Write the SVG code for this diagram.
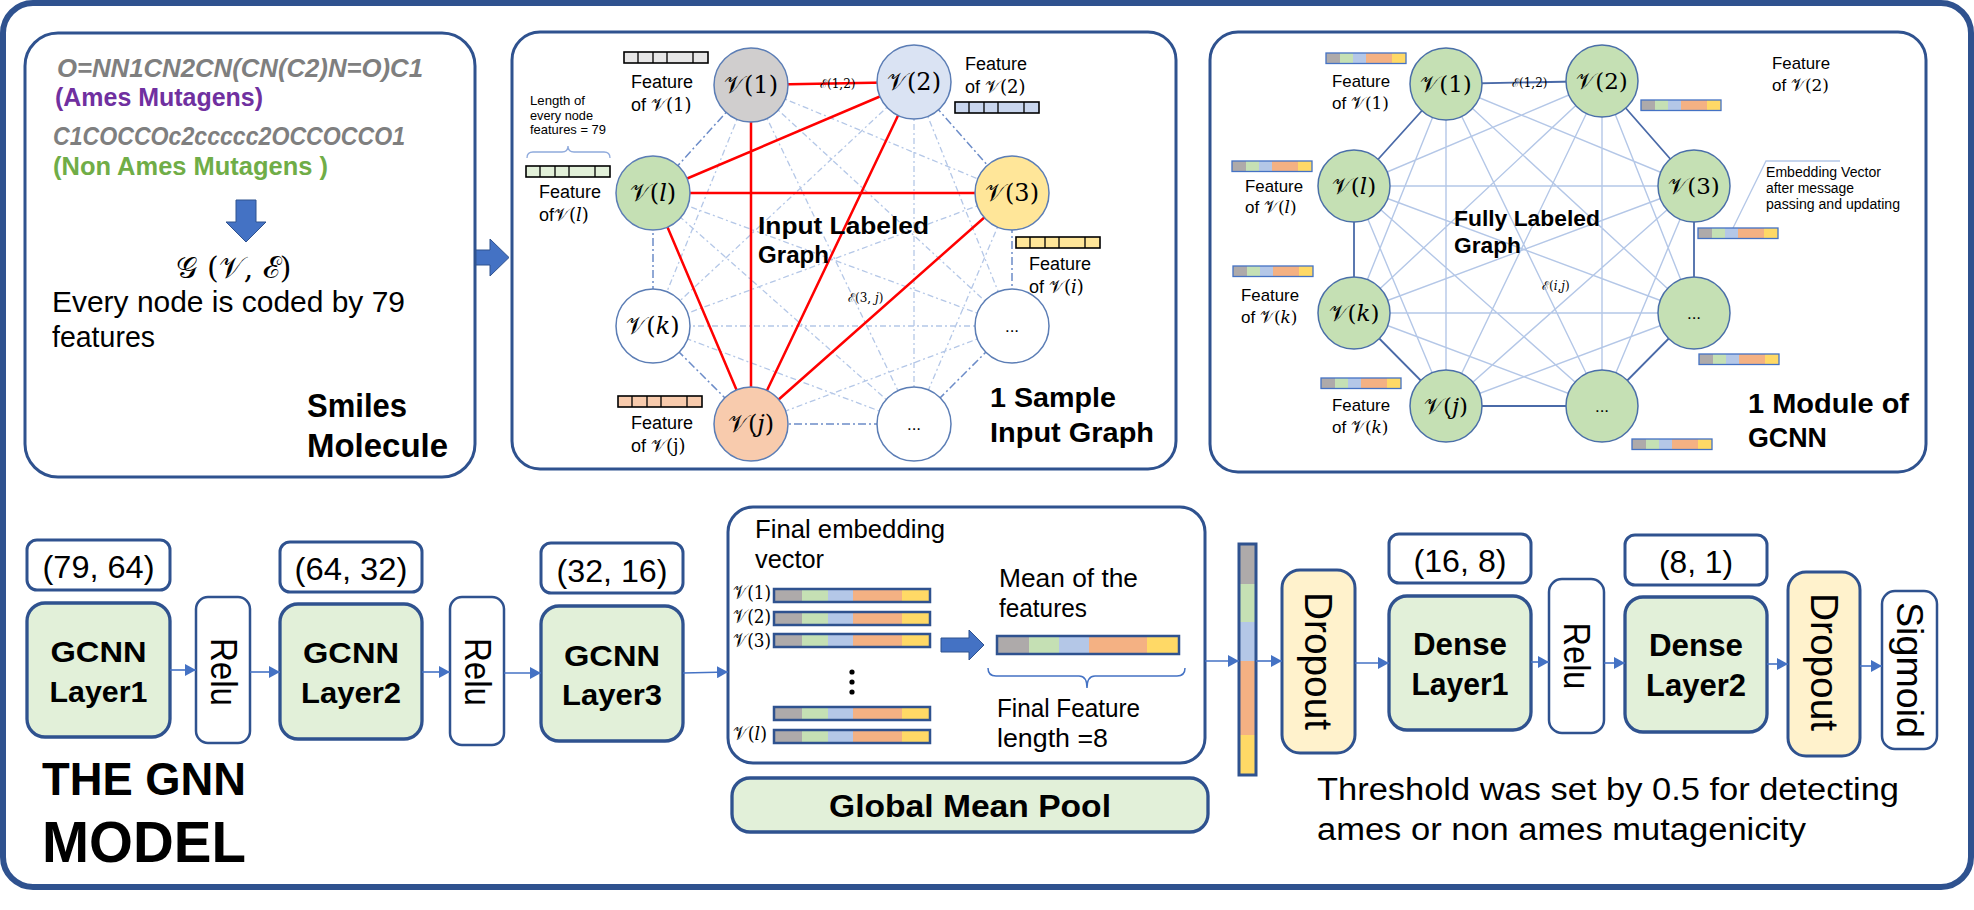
<svg xmlns="http://www.w3.org/2000/svg" width="1974" height="910" viewBox="0 0 1974 910">
<defs>
<style>
text{font-family:'Liberation Sans',Arial,sans-serif;fill:#000}
.b{font-weight:bold}
.m{font-family:'DejaVu Serif','Liberation Serif',serif}
.box{fill:#fff;stroke:#2F528F;stroke-width:3}
.lbl{fill:#fff;stroke:#2F528F;stroke-width:3}
.grn{fill:#E2F0D9;stroke:#2F528F;stroke-width:3.3}
.yel{fill:#FFF2CC;stroke:#2F528F;stroke-width:3}
.red{stroke:#FF0000;stroke-width:2.5;fill:none}
.ring2{stroke:#6C8CC8;stroke-width:1.5;stroke-dasharray:8 3 2 3;fill:none}
.in2{stroke:#B4C7E7;stroke-width:1.3;stroke-dasharray:6 3 2 3;fill:none}
.ring3{stroke:#4A6AA8;stroke-width:1.8;fill:none}
.in3{stroke:#B4C7E7;stroke-width:1.4;fill:none}
.conn{stroke:#4472C4;stroke-width:1.6;fill:none}
.n2{stroke:#5B7DB5;stroke-width:1.5}
.n3{fill:#C5E0B4;stroke:#4A6FA8;stroke-width:1.5}
.blk{fill:#4472C4;stroke:#2F528F;stroke-width:1}
.g{fill:#AEAAAA}.gr{fill:#C5E0B4}.bl{fill:#B4C7E7}.or{fill:#F4B183}.ye{fill:#FFD966}
.f17{font-size:17px}.f18{font-size:18px}
</style>
<marker id="ah" markerWidth="11" markerHeight="12" refX="11" refY="6" orient="auto" markerUnits="userSpaceOnUse"><path d="M0,0 L11,6 L0,12 z" fill="#4472C4"/></marker>
<g id="bar80"><rect class="g" x="0" y="0" width="14" height="10.5"/><rect class="gr" x="14" y="0" width="13" height="10.5"/><rect class="bl" x="27" y="0" width="13" height="10.5"/><rect class="or" x="40" y="0" width="26" height="10.5"/><rect class="ye" x="66" y="0" width="14" height="10.5"/><rect x="0" y="0" width="80" height="10.5" fill="none" stroke="#4472C4" stroke-width="1.3"/></g>
<g id="bar156"><rect class="g" x="0" y="0" width="28" height="13"/><rect class="gr" x="28" y="0" width="26" height="13"/><rect class="bl" x="54" y="0" width="25" height="13"/><rect class="or" x="79" y="0" width="49" height="13"/><rect class="ye" x="128" y="0" width="28" height="13"/><rect x="0" y="0" width="156" height="13" fill="none" stroke="#2F528F" stroke-width="2.5"/></g>
<g id="cells"><rect x="0" y="0" width="84" height="11" fill="none" stroke="#000" stroke-width="1.6"/><path d="M14,0V11M29,0V11M43,0V11M69,0V11" stroke="#000" stroke-width="1.3"/></g>
</defs>

<rect x="3" y="3" width="1968" height="884" rx="30" fill="#fff" stroke="#2F528F" stroke-width="6"/>

<!-- Box 1 -->
<g id="smiles-box">
<rect class="box" x="25" y="33" width="450" height="444" rx="33"/>
<text x="57" y="77" font-size="25" font-style="italic" class="b" style="fill:#7F7F7F" textLength="366" lengthAdjust="spacingAndGlyphs">O=NN1CN2CN(CN(C2)N=O)C1</text>
<text x="55" y="106" font-size="25" class="b" style="fill:#7030A0" textLength="208" lengthAdjust="spacingAndGlyphs">(Ames Mutagens)</text>
<text x="53" y="145" font-size="25" font-style="italic" class="b" style="fill:#7F7F7F" textLength="352" lengthAdjust="spacingAndGlyphs">C1COCCOc2ccccc2OCCOCCO1</text>
<text x="53" y="175" font-size="25" class="b" style="fill:#70AD47" textLength="275" lengthAdjust="spacingAndGlyphs">(Non Ames Mutagens )</text>
<polygon class="blk" points="236,200 256,200 256,222 266,222 246,242 226,222 236,222"/>
<text class="m" x="234" y="278" font-size="30" text-anchor="middle">𝒢 (𝒱, ℰ)</text>
<text x="52" y="312" font-size="29" textLength="353" lengthAdjust="spacingAndGlyphs">Every node is coded by 79</text>
<text x="52" y="347" font-size="29" textLength="103" lengthAdjust="spacingAndGlyphs">features</text>
<text x="307" y="417" font-size="33" class="b" textLength="100" lengthAdjust="spacingAndGlyphs">Smiles</text>
<text x="307" y="457" font-size="33" class="b" textLength="141" lengthAdjust="spacingAndGlyphs">Molecule</text>
</g>
<polygon id="arrow-box1-box2" class="blk" points="476,250 490,250 490,239 509,257.5 490,276 490,265 476,265"/>

<!-- Box 2 -->
<g id="input-graph-box">
<rect class="box" x="512" y="32" width="664" height="437" rx="28"/>
</g>
<g id="edges-input-graph">
<path class="in2" d="M751,85L1012,193M751,85L1012,326M751,85L914,424M751,85L751,424M751,85L653,326M914,82L1012,326M914,82L914,424M914,82L751,424M914,82L653,326M914,82L653,193M1012,193L914,424M1012,193L751,424M1012,193L653,326M1012,193L653,193M1012,326L751,424M1012,326L653,326M1012,326L653,193M914,424L653,326M914,424L653,193M751,424L653,193"/>
<path class="ring2" d="M751,85L914,82M914,82L1012,193M1012,193L1012,326M1012,326L914,424M914,424L751,424M751,424L653,326M653,326L653,193M653,193L751,85"/>
<path class="red" d="M751,85L914,82M751,85L751,424M914,82L653,193M914,82L751,424M653,193L1012,193M653,193L751,424M1012,193L751,424"/>
</g>
<g id="n2-v1"><circle class="n2" cx="751" cy="85" r="37" fill="#D0CECE"/><text class="m" x="751" y="93" font-size="24" text-anchor="middle">𝒱(1)</text></g>
<g id="n2-v2"><circle class="n2" cx="914" cy="82" r="37" fill="#DAE3F3"/><text class="m" x="914" y="90" font-size="24" text-anchor="middle">𝒱(2)</text></g>
<g id="n2-vl"><circle class="n2" cx="653" cy="193" r="37" fill="#C5E0B4"/><text class="m" x="653" y="201" font-size="24" text-anchor="middle">𝒱(𝑙)</text></g>
<g id="n2-v3"><circle class="n2" cx="1012" cy="193" r="37" fill="#FFE699"/><text class="m" x="1012" y="201" font-size="24" text-anchor="middle">𝒱(3)</text></g>
<g id="n2-vk"><circle class="n2" cx="653" cy="326" r="37" fill="#fff"/><text class="m" x="653" y="334" font-size="24" text-anchor="middle">𝒱(𝑘)</text></g>
<g id="n2-vr"><circle class="n2" cx="1012" cy="326" r="37" fill="#fff"/><text x="1012" y="332" font-size="17" text-anchor="middle">...</text></g>
<g id="n2-vj"><circle class="n2" cx="751" cy="424" r="37" fill="#F8CBAD"/><text class="m" x="751" y="432" font-size="24" text-anchor="middle">𝒱(𝑗)</text></g>
<g id="n2-vb"><circle class="n2" cx="914" cy="424" r="37" fill="#fff"/><text x="914" y="430" font-size="17" text-anchor="middle">...</text></g>
<g id="input-graph-labels">
<rect x="624" y="52" width="84" height="11" fill="#E7E6E6"/><use href="#cells" x="624" y="52"/>
<text x="631" y="88" class="f18" textLength="62" lengthAdjust="spacingAndGlyphs">Feature</text>
<text x="631" y="111" class="f18">of <tspan class="m">𝒱(1)</tspan></text>
<text x="530" y="105" font-size="13" textLength="55" lengthAdjust="spacingAndGlyphs">Length of</text>
<text x="530" y="120" font-size="13" textLength="63" lengthAdjust="spacingAndGlyphs">every node</text>
<text x="530" y="134" font-size="13" textLength="76" lengthAdjust="spacingAndGlyphs">features = 79</text>
<path d="M527,158Q527,152 533,152L562,152Q568,152 568,146Q568,152 574,152L604,152Q610,152 610,158" fill="none" stroke="#8FAADC" stroke-width="1.3"/>
<rect x="526" y="166" width="84" height="11" fill="#E2F0D9"/><use href="#cells" x="526" y="166"/>
<text x="539" y="198" class="f18" textLength="62" lengthAdjust="spacingAndGlyphs">Feature</text>
<text x="539" y="221" class="f18">of<tspan class="m">𝒱(𝑙)</tspan></text>
<text x="965" y="70" class="f18" textLength="62" lengthAdjust="spacingAndGlyphs">Feature</text>
<text x="965" y="93" class="f18">of <tspan class="m">𝒱(2)</tspan></text>
<rect x="955" y="102" width="84" height="11" fill="#C9D6EE"/><use href="#cells" x="955" y="102"/>
<rect x="1016" y="237" width="84" height="11" fill="#FFE699"/><use href="#cells" x="1016" y="237"/>
<text x="1029" y="270" class="f18" textLength="62" lengthAdjust="spacingAndGlyphs">Feature</text>
<text x="1029" y="293" class="f18">of <tspan class="m">𝒱(𝑖)</tspan></text>
<rect x="618" y="396" width="84" height="11" fill="#F8CBAD"/><use href="#cells" x="618" y="396"/>
<text x="631" y="429" class="f18" textLength="62" lengthAdjust="spacingAndGlyphs">Feature</text>
<text x="631" y="452" class="f18">of <tspan class="m">𝒱(j)</tspan></text>
<text class="m" x="820" y="88" font-size="12">ℰ(1,2)</text>
<text class="m" x="848" y="302" font-size="12">ℰ(3, 𝑗)</text>
<text x="758" y="234" font-size="24" class="b" textLength="171" lengthAdjust="spacingAndGlyphs">Input   Labeled</text>
<text x="758" y="263" font-size="24" class="b" textLength="71" lengthAdjust="spacingAndGlyphs">Graph</text>
<text x="990" y="407" font-size="28" class="b" textLength="126" lengthAdjust="spacingAndGlyphs">1 Sample</text>
<text x="990" y="442" font-size="28" class="b" textLength="164" lengthAdjust="spacingAndGlyphs">Input Graph</text>
</g>

<!-- Box 3 -->
<g id="gcnn-module-box">
<rect class="box" x="1210" y="32" width="716" height="440" rx="28"/>
</g>
<g id="edges-gcnn-module">
<path class="in3" d="M1446,84L1694,186M1446,84L1694,313M1446,84L1602,406M1446,84L1446,406M1446,84L1354,313M1602,81L1694,313M1602,81L1602,406M1602,81L1446,406M1602,81L1354,313M1602,81L1354,186M1694,186L1602,406M1694,186L1446,406M1694,186L1354,313M1694,186L1354,186M1694,313L1446,406M1694,313L1354,313M1694,313L1354,186M1602,406L1354,313M1602,406L1354,186M1446,406L1354,186"/>
<path class="ring3" d="M1446,84L1602,81M1602,81L1694,186M1694,186L1694,313M1694,313L1602,406M1602,406L1446,406M1446,406L1354,313M1354,313L1354,186M1354,186L1446,84"/>
<path d="M1840,161L1766,161L1733,228" fill="none" stroke="#B4C7E7" stroke-width="1.3"/>
</g>
<g id="n3-v1"><circle class="n3" cx="1446" cy="84" r="36"/><text class="m" x="1446" y="92" font-size="23" text-anchor="middle">𝒱(1)</text></g>
<g id="n3-v2"><circle class="n3" cx="1602" cy="81" r="36"/><text class="m" x="1602" y="89" font-size="23" text-anchor="middle">𝒱(2)</text></g>
<g id="n3-vl"><circle class="n3" cx="1354" cy="186" r="36"/><text class="m" x="1354" y="194" font-size="23" text-anchor="middle">𝒱(𝑙)</text></g>
<g id="n3-v3"><circle class="n3" cx="1694" cy="186" r="36"/><text class="m" x="1694" y="194" font-size="23" text-anchor="middle">𝒱(3)</text></g>
<g id="n3-vk"><circle class="n3" cx="1354" cy="313" r="36"/><text class="m" x="1354" y="321" font-size="23" text-anchor="middle">𝒱(𝑘)</text></g>
<g id="n3-vr"><circle class="n3" cx="1694" cy="313" r="36"/><text x="1694" y="319" font-size="17" text-anchor="middle">...</text></g>
<g id="n3-vj"><circle class="n3" cx="1446" cy="406" r="36"/><text class="m" x="1446" y="414" font-size="23" text-anchor="middle">𝒱(𝑗)</text></g>
<g id="n3-vb"><circle class="n3" cx="1602" cy="406" r="36"/><text x="1602" y="412" font-size="17" text-anchor="middle">...</text></g>
<g id="gcnn-module-labels">
<use href="#bar80" x="1326" y="53"/>
<text x="1332" y="87" class="f17" textLength="58" lengthAdjust="spacingAndGlyphs">Feature</text>
<text x="1332" y="109" class="f17">of <tspan class="m">𝒱(1)</tspan></text>
<use href="#bar80" x="1641" y="100"/>
<text x="1772" y="69" class="f17" textLength="58" lengthAdjust="spacingAndGlyphs">Feature</text>
<text x="1772" y="91" class="f17">of <tspan class="m">𝒱(2)</tspan></text>
<use href="#bar80" x="1232" y="161"/>
<text x="1245" y="192" class="f17" textLength="58" lengthAdjust="spacingAndGlyphs">Feature</text>
<text x="1245" y="213" class="f17">of <tspan class="m">𝒱(𝑙)</tspan></text>
<use href="#bar80" x="1698" y="228"/>
<use href="#bar80" x="1233" y="266"/>
<text x="1241" y="301" class="f17" textLength="58" lengthAdjust="spacingAndGlyphs">Feature</text>
<text x="1241" y="323" class="f17">of <tspan class="m">𝒱(𝑘)</tspan></text>
<use href="#bar80" x="1699" y="354"/>
<use href="#bar80" x="1321" y="378"/>
<text x="1332" y="411" class="f17" textLength="58" lengthAdjust="spacingAndGlyphs">Feature</text>
<text x="1332" y="433" class="f17">of <tspan class="m">𝒱(𝑘)</tspan></text>
<use href="#bar80" x="1632" y="439"/>
<text class="m" x="1512" y="87" font-size="12">ℰ(1,2)</text>
<text class="m" x="1542" y="290" font-size="12">ℰ(𝑖,𝑗)</text>
<text x="1454" y="226" font-size="22" class="b" textLength="146" lengthAdjust="spacingAndGlyphs">Fully Labeled</text>
<text x="1454" y="253" font-size="22" class="b" textLength="67" lengthAdjust="spacingAndGlyphs">Graph</text>
<text x="1766" y="177" font-size="14" textLength="115" lengthAdjust="spacingAndGlyphs">Embedding Vector</text>
<text x="1766" y="193" font-size="14" textLength="88" lengthAdjust="spacingAndGlyphs">after message</text>
<text x="1766" y="209" font-size="14" textLength="134" lengthAdjust="spacingAndGlyphs">passing and updating</text>
<text x="1748" y="413" font-size="28" class="b" textLength="161" lengthAdjust="spacingAndGlyphs">1 Module of</text>
<text x="1748" y="447" font-size="28" class="b" textLength="79" lengthAdjust="spacingAndGlyphs">GCNN</text>
</g>

<!-- Bottom pipeline -->
<g id="dim-79-64"><rect class="lbl" x="27" y="540" width="143" height="50" rx="10"/><text x="98.5" y="578" font-size="32" text-anchor="middle" textLength="112" lengthAdjust="spacingAndGlyphs">(79, 64)</text></g>
<g id="gcnn-layer1"><rect class="grn" x="27" y="603" width="143" height="134" rx="18"/><text x="98.5" y="662" font-size="30" class="b" text-anchor="middle" textLength="96" lengthAdjust="spacingAndGlyphs">GCNN</text><text x="98.5" y="702" font-size="30" class="b" text-anchor="middle" textLength="98" lengthAdjust="spacingAndGlyphs">Layer1</text></g>
<g id="relu1"><rect class="lbl" x="196" y="597" width="54" height="146" rx="12" style="stroke-width:2.5"/><text transform="translate(223,672) rotate(90)" x="0" y="12.5" font-size="36" text-anchor="middle" textLength="68" lengthAdjust="spacingAndGlyphs">Relu</text></g>
<g id="dim-64-32"><rect class="lbl" x="280" y="542" width="142" height="50" rx="10"/><text x="351" y="580" font-size="32" text-anchor="middle" textLength="113" lengthAdjust="spacingAndGlyphs">(64, 32)</text></g>
<g id="gcnn-layer2"><rect class="grn" x="280" y="604" width="142" height="135" rx="18"/><text x="351" y="663" font-size="30" class="b" text-anchor="middle" textLength="96" lengthAdjust="spacingAndGlyphs">GCNN</text><text x="351" y="703" font-size="30" class="b" text-anchor="middle" textLength="100" lengthAdjust="spacingAndGlyphs">Layer2</text></g>
<g id="relu2"><rect class="lbl" x="450" y="597" width="54" height="148" rx="12" style="stroke-width:2.5"/><text transform="translate(477,672) rotate(90)" x="0" y="12.5" font-size="36" text-anchor="middle" textLength="68" lengthAdjust="spacingAndGlyphs">Relu</text></g>
<g id="dim-32-16"><rect class="lbl" x="541" y="543" width="142" height="50" rx="10"/><text x="612" y="582" font-size="32" text-anchor="middle" textLength="111" lengthAdjust="spacingAndGlyphs">(32, 16)</text></g>
<g id="gcnn-layer3"><rect class="grn" x="541" y="606" width="142" height="135" rx="18"/><text x="612" y="666" font-size="30" class="b" text-anchor="middle" textLength="96" lengthAdjust="spacingAndGlyphs">GCNN</text><text x="612" y="705" font-size="30" class="b" text-anchor="middle" textLength="100" lengthAdjust="spacingAndGlyphs">Layer3</text></g>
<g id="title"><text x="42" y="795" font-size="46" class="b" textLength="204" lengthAdjust="spacingAndGlyphs">THE GNN</text><text x="42" y="862" font-size="58" class="b" textLength="204" lengthAdjust="spacingAndGlyphs">MODEL</text></g>

<g id="final-embedding">
<rect class="box" x="728" y="507" width="477" height="256" rx="25"/>
<text x="755" y="538" font-size="25" textLength="190" lengthAdjust="spacingAndGlyphs">Final embedding</text>
<text x="755" y="568" font-size="25" textLength="69" lengthAdjust="spacingAndGlyphs">vector</text>
<text class="m" x="733" y="599" font-size="19" textLength="38" lengthAdjust="spacingAndGlyphs">𝒱(1)</text>
<text class="m" x="733" y="623" font-size="19" textLength="38" lengthAdjust="spacingAndGlyphs">𝒱(2)</text>
<text class="m" x="733" y="647" font-size="19" textLength="38" lengthAdjust="spacingAndGlyphs">𝒱(3)</text>
<text class="m" x="733" y="740" font-size="19" textLength="34" lengthAdjust="spacingAndGlyphs">𝒱(𝑙)</text>
<use href="#bar156" x="774" y="589"/>
<use href="#bar156" x="774" y="612"/>
<use href="#bar156" x="774" y="634"/>
<use href="#bar156" x="774" y="707"/>
<use href="#bar156" x="774" y="730"/>
<circle cx="852" cy="672" r="2.6"/><circle cx="852" cy="682" r="2.6"/><circle cx="852" cy="692" r="2.6"/>
<polygon class="blk" points="941,638 969,638 969,630 984,645 969,660 969,652 941,652"/>
<text x="999" y="587" font-size="25" textLength="139" lengthAdjust="spacingAndGlyphs">Mean of the</text>
<text x="999" y="617" font-size="25" textLength="88" lengthAdjust="spacingAndGlyphs">features</text>
<g transform="translate(997,636)">
<rect class="g" x="0" y="0" width="32" height="18"/><rect class="gr" x="32" y="0" width="30" height="18"/><rect class="bl" x="62" y="0" width="30" height="18"/><rect class="or" x="92" y="0" width="58" height="18"/><rect class="ye" x="150" y="0" width="32" height="18"/><rect x="0" y="0" width="182" height="18" fill="none" stroke="#2F528F" stroke-width="2.5"/>
</g>
<path d="M988,668Q988,676 996,676L1079,676Q1087,676 1087,688Q1087,676 1095,676L1177,676Q1185,676 1185,668" fill="none" stroke="#4472C4" stroke-width="1.5"/>
<text x="997" y="717" font-size="25" textLength="143" lengthAdjust="spacingAndGlyphs">Final Feature</text>
<text x="997" y="747" font-size="25" textLength="111" lengthAdjust="spacingAndGlyphs">length =8</text>
</g>
<g id="global-mean-pool"><rect class="grn" x="732" y="778" width="476" height="54" rx="18"/><text x="970" y="817" font-size="31" class="b" text-anchor="middle" textLength="282" lengthAdjust="spacingAndGlyphs">Global Mean Pool</text></g>

<g id="pooled-vector">
<rect class="g" x="1239" y="544" width="17" height="40"/><rect class="gr" x="1239" y="584" width="17" height="38"/><rect class="bl" x="1239" y="622" width="17" height="39"/><rect class="or" x="1239" y="661" width="17" height="74"/><rect class="ye" x="1239" y="735" width="17" height="40"/>
<rect x="1239" y="544" width="17" height="231" fill="none" stroke="#2F528F" stroke-width="3"/>
</g>
<g id="dropout1"><rect class="yel" x="1282" y="570" width="73" height="183" rx="18"/><text transform="translate(1318.5,661) rotate(90)" x="0" y="13.5" font-size="38" text-anchor="middle" textLength="138" lengthAdjust="spacingAndGlyphs">Dropout</text></g>
<g id="dim-16-8"><rect class="lbl" x="1389" y="534" width="142" height="49" rx="10"/><text x="1460" y="572" font-size="32" text-anchor="middle" textLength="93" lengthAdjust="spacingAndGlyphs">(16, 8)</text></g>
<g id="dense-layer1"><rect class="grn" x="1389" y="596" width="142" height="134" rx="18"/><text x="1460" y="655" font-size="31" class="b" text-anchor="middle" textLength="94" lengthAdjust="spacingAndGlyphs">Dense</text><text x="1460" y="695" font-size="31" class="b" text-anchor="middle" textLength="97" lengthAdjust="spacingAndGlyphs">Layer1</text></g>
<g id="relu3"><rect class="lbl" x="1549" y="579" width="55" height="154" rx="13" style="stroke-width:2.5"/><text transform="translate(1576.5,656) rotate(90)" x="0" y="13" font-size="37" text-anchor="middle" textLength="67" lengthAdjust="spacingAndGlyphs">Relu</text></g>
<g id="dim-8-1"><rect class="lbl" x="1625" y="535" width="142" height="50" rx="10"/><text x="1696" y="573" font-size="32" text-anchor="middle" textLength="74" lengthAdjust="spacingAndGlyphs">(8, 1)</text></g>
<g id="dense-layer2"><rect class="grn" x="1625" y="597" width="142" height="135" rx="18"/><text x="1696" y="656" font-size="31" class="b" text-anchor="middle" textLength="94" lengthAdjust="spacingAndGlyphs">Dense</text><text x="1696" y="696" font-size="31" class="b" text-anchor="middle" textLength="100" lengthAdjust="spacingAndGlyphs">Layer2</text></g>
<g id="dropout2"><rect class="yel" x="1788" y="572" width="72" height="184" rx="18"/><text transform="translate(1824,662) rotate(90)" x="0" y="13.5" font-size="38" text-anchor="middle" textLength="138" lengthAdjust="spacingAndGlyphs">Dropout</text></g>
<g id="sigmoid"><rect class="lbl" x="1882" y="591" width="55" height="158" rx="13" style="stroke-width:2.5"/><text transform="translate(1909.5,670) rotate(90)" x="0" y="13" font-size="37" text-anchor="middle" textLength="136" lengthAdjust="spacingAndGlyphs">Sigmoid</text></g>
<g id="threshold-note"><text x="1317" y="800" font-size="31" textLength="582" lengthAdjust="spacingAndGlyphs">Threshold was set by 0.5 for detecting</text><text x="1317" y="840" font-size="31" textLength="489" lengthAdjust="spacingAndGlyphs">ames or non ames mutagenicity</text></g>

<g id="connectors">
<line class="conn" x1="170" y1="670" x2="196" y2="670" marker-end="url(#ah)"/>
<line class="conn" x1="250" y1="672" x2="280" y2="672" marker-end="url(#ah)"/>
<line class="conn" x1="422" y1="672" x2="450" y2="672" marker-end="url(#ah)"/>
<line class="conn" x1="504" y1="673" x2="541" y2="673" marker-end="url(#ah)"/>
<line class="conn" x1="683" y1="673" x2="728" y2="672" marker-end="url(#ah)"/>
<line class="conn" x1="1205" y1="661" x2="1239" y2="661" marker-end="url(#ah)"/>
<line class="conn" x1="1256" y1="661" x2="1282" y2="661" marker-end="url(#ah)"/>
<line class="conn" x1="1355" y1="663" x2="1389" y2="663" marker-end="url(#ah)"/>
<line class="conn" x1="1531" y1="662" x2="1549" y2="662" marker-end="url(#ah)"/>
<line class="conn" x1="1604" y1="663" x2="1625" y2="663" marker-end="url(#ah)"/>
<line class="conn" x1="1767" y1="664" x2="1788" y2="664" marker-end="url(#ah)"/>
<line class="conn" x1="1860" y1="666" x2="1882" y2="666" marker-end="url(#ah)"/>
</g>
</svg>
